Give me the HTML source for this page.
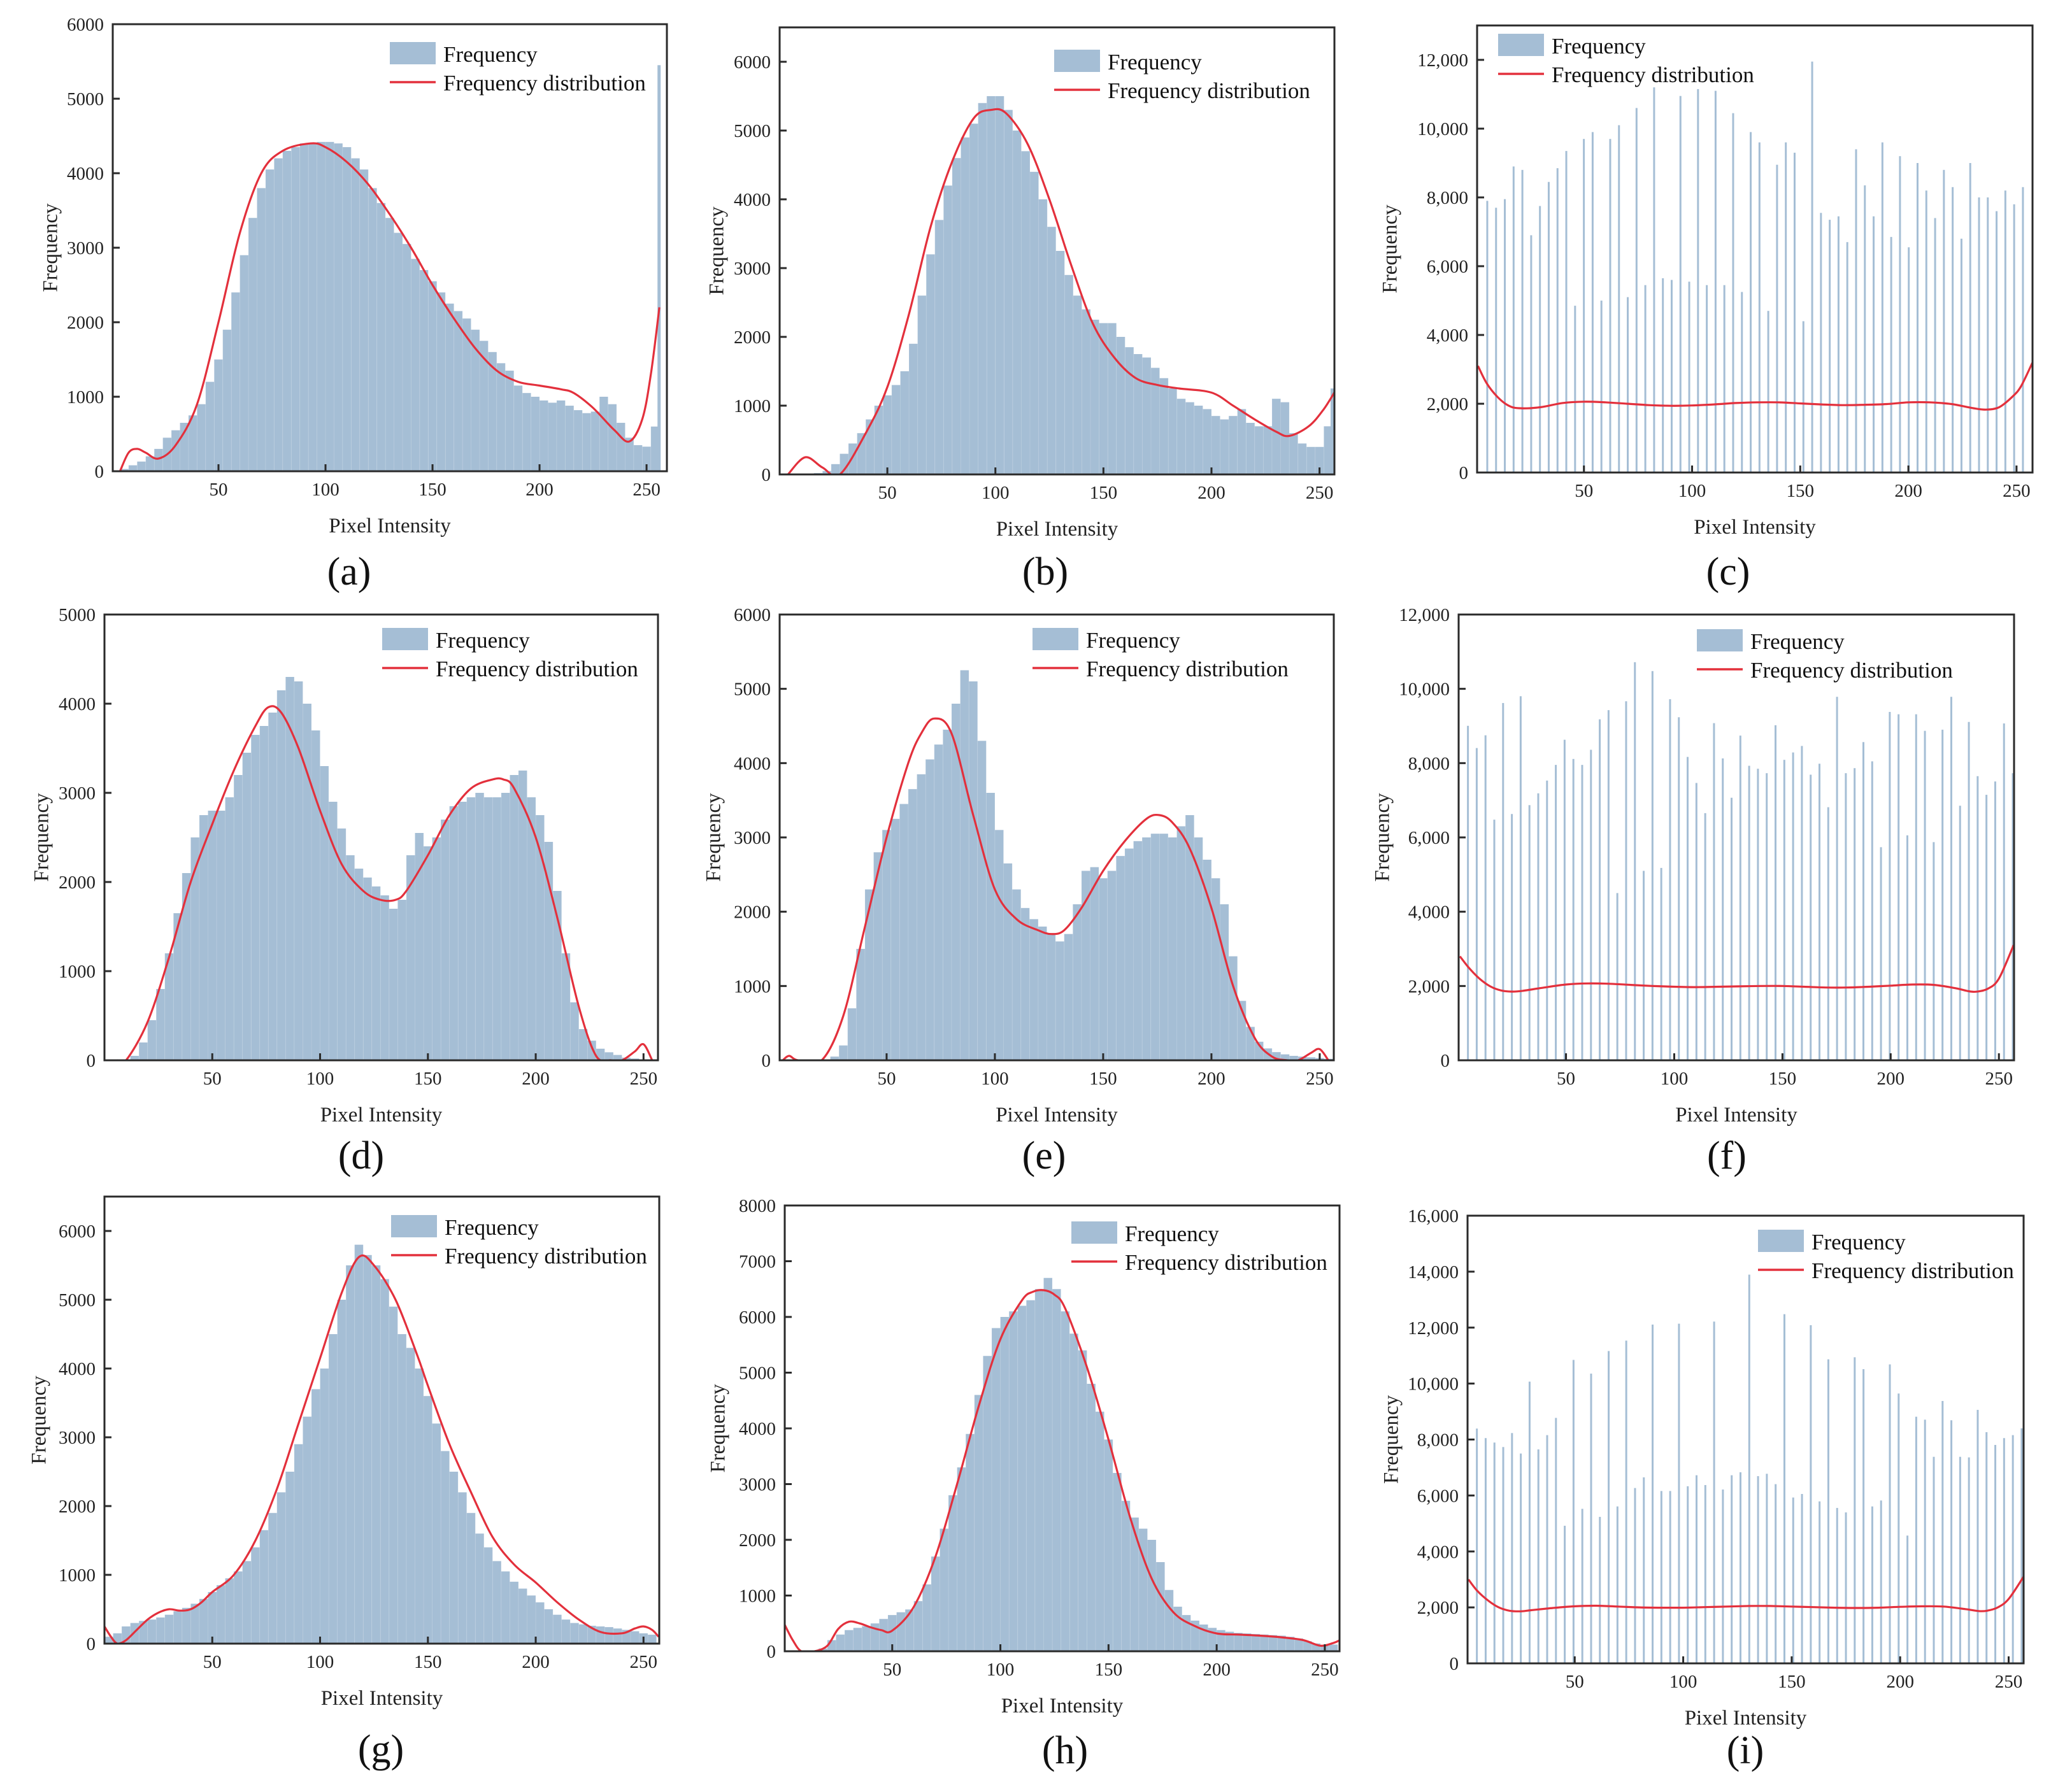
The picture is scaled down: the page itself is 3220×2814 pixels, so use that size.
<!DOCTYPE html>
<html><head><meta charset="utf-8"><title>Pixel intensity histograms</title>
<style>
html,body{margin:0;padding:0;background:#fff;}
svg{display:block;font-family:"Liberation Serif",serif;}
</style></head>
<body>
<svg id="fig" xmlns="http://www.w3.org/2000/svg" width="3220" height="2814" viewBox="0 0 3220 2814"></svg>
<script>
// ---------- data ----------
const xTickLabels = [50, 100, 150, 200, 250];
const denseBinWidth = 4;
const aBins = [0,30,80,130,200,300,450,550,650,750, 900,1200,1500,1900,2400,2900,3400,3800,4050,4200, 4300,4350,4400,4400,4420,4420,4400,4350,4200,4050, 3800,3600,3400,3200,3050,2850,2700,2550,2400,2250, 2150,2050,1900,1750,1600,1450,1350,1150,1050,1000, 950,920,950,880,820,780,800,1000,900,650, 450,350,330,600];
const aSpikeX = [256]; const aSpikeY = [5450];
const aCurveX = [4,8,12,16,22,30,40,50,60,70,80,93,100,110,120,130,140,150,160,170,180,190,200,210,216,225,235,242,248,252,256];
const aCurveY = [0,250,300,250,170,350,900,2000,3200,4000,4300,4400,4350,4150,3850,3450,3000,2500,2050,1650,1350,1200,1150,1100,1050,850,550,400,700,1300,2200];

const bBins = [0,0,0,0,20,50,150,300,450,600, 800,1000,1150,1300,1500,1900,2600,3200,3700,4200, 4600,4900,5100,5400,5500,5500,5300,5000,4700,4400, 4000,3600,3250,2900,2600,2400,2250,2200,2200,2000, 1850,1750,1700,1550,1400,1250,1100,1050,1000,950, 850,800,850,950,750,700,700,1100,1050,600, 450,400,400,700];
const bSpikeX = [256]; const bSpikeY = [1250];
const bCurveX = [4,12,20,28,40,50,60,70,80,90,98,105,115,125,135,145,155,165,175,185,200,210,220,230,236,245,252,258];
const bCurveY = [0,250,100,0,600,1270,2330,3600,4550,5180,5300,5250,4800,4000,3050,2200,1700,1400,1300,1250,1190,1000,800,620,560,700,950,1250];

const cBars = [7900,7700,7950,8900,8800,6900,7750,8450,8850,9350, 4850,9700,9900,5000,9700,10100,5100,10600,5450,11200, 5650,5600,10950,5550,11150,5450,11100,5450,10450,5250, 9900,9600,4700,8950,9600,9300,4400,11950,7550,7350, 7450,6700,9400,8350,7450,9600,6850,9200,6550,9000, 8200,7400,8800,8300,6800,9000,8000,8000,7600,8200, 7800,8300];
const cBarStart = 5.3, cBarStep = 4.06;
const cCurveX = [1,5,10,15,20,30,40,50,60,70,80,90,100,110,120,130,140,150,160,170,180,190,200,210,220,230,236,242,248,252,257.4];
const cCurveY = [3100,2600,2200,1950,1870,1900,2020,2060,2040,2000,1960,1940,1950,1980,2020,2040,2040,2010,1980,1960,1970,1990,2040,2040,1990,1870,1830,1900,2200,2500,3200];

const dBins = [0,0,0,50,200,450,800,1200,1650,2100, 2500,2750,2800,2800,2950,3200,3450,3650,3750,3900, 4150,4300,4250,4000,3700,3300,2900,2600,2300,2150, 2050,1950,1850,1700,1800,2300,2550,2400,2500,2700, 2850,2900,2950,3000,2950,2950,3000,3200,3250,2950, 2750,2450,1900,1200,650,350,220,130,90,60, 30,20,10,0];
const dCurveX = [6,10,20,30,40,50,60,70,76,82,90,100,110,120,128,135,140,150,160,170,180,185,190,200,210,220,228,235,240,246,250,254];
const dCurveY = [0,0,430,1160,2000,2650,3250,3750,3960,3900,3500,2800,2200,1900,1800,1800,1900,2300,2750,3050,3150,3150,3050,2500,1600,600,50,0,0,100,180,0];

const eBins = [0,0,0,0,0,0,50,200,700,1500, 2300,2800,3100,3250,3450,3650,3850,4050,4250,4450, 4800,5250,5100,4300,3600,3100,2650,2300,2050,1900, 1800,1700,1600,1700,2100,2550,2600,2450,2550,2750, 2850,2950,3000,3050,3050,3000,3150,3300,3000,2700, 2450,2100,1400,800,450,250,160,110,80,60, 50,40,30,20];
const eCurveX = [2,5,9,20,30,40,50,60,66,72,80,90,100,110,120,126,132,140,150,160,170,176,182,190,200,210,220,228,235,240,246,250,254];
const eCurveY = [0,60,0,0,600,1800,3000,4000,4400,4600,4400,3300,2300,1900,1750,1700,1750,2050,2550,2950,3250,3300,3200,2850,2050,1000,300,50,0,0,100,150,0];

const fBars = [9004,8406,8749,6478,9618,6630,9801,6869,7187,7530, 7952,8629,8112,7952,8359,9179,9426,4502,9665,10717, 5100,10478,5179,9721,9235,8167,7466,6653,9076,8127, 7068,8741,7928,7849,7729,9020,8088,8287,8462,7689, 7984,6813,9785,7729,7865,8566,8048,5737,9378,9315, 6056,9315,8869,5873,8900,9785,6853,9108,7649,7147, 7506,9068,7729];
const fBarStart = 4.7, fBarStep = 4.06;
const fCurveX = [1,5,10,15,20,25,30,40,50,60,70,80,90,100,110,120,130,140,150,160,170,180,190,200,210,220,230,236,240,245,250,256.8];
const fCurveY = [2800,2500,2200,1990,1880,1850,1870,1960,2040,2070,2060,2030,2000,1980,1970,1980,1990,2000,2000,1980,1960,1960,1980,2010,2040,2030,1940,1860,1850,1930,2200,3100];

const gBins = [100,150,250,300,330,350,380,420,470,520, 580,650,750,850,950,1050,1200,1400,1650,1900, 2200,2500,2900,3300,3700,4000,4500,5000,5500,5800, 5650,5500,5300,4900,4500,4300,4000,3600,3200,2800, 2500,2200,1900,1600,1400,1200,1050,900,800,700, 600,500,420,350,300,280,260,250,240,220, 200,180,150,130];
const gCurveX = [0,3,6,10,15,20,25,30,35,40,45,50,60,70,80,90,100,110,118,125,135,145,150,160,170,180,190,200,210,220,230,240,246,250,254,257];
const gCurveY = [250,100,0,50,200,350,450,500,480,500,600,750,1000,1500,2250,3200,4150,5100,5620,5500,5000,4200,3750,2900,2200,1550,1150,890,600,350,170,150,220,250,200,100];

const hBins = [0,0,0,0,50,200,300,380,420,450, 500,580,650,700,750,900,1200,1700,2200,2800, 3300,3900,4600,5300,5800,6000,6100,6200,6300,6500, 6700,6500,6100,5700,5400,4800,4300,3800,3200,2700, 2400,2200,2000,1600,1100,800,650,550,480,420, 380,350,330,320,310,300,290,280,260,230, 180,140,100,120];
const hCurveX = [0,4,8,14,20,25,30,35,40,45,50,60,70,80,90,100,110,115,120,125,130,140,150,160,170,180,190,200,210,220,230,240,248,254,257];
const hCurveY = [500,200,0,0,100,400,530,500,430,380,370,800,1700,3000,4400,5600,6300,6450,6480,6400,6150,5100,3800,2400,1300,700,450,320,300,280,250,200,100,150,200];

const iBars = [8391,8051,7892,7732,8231,7499,10069,7647,8157,8773, 4918,10845,5523,10356,5236,11163,5608,11535,6267,6649, 12108,6160,6160,12140,6330,6723,6373,12215,6213,6723, 6830,13893,6691,6776,6405,12480,5927,6054,12087,5789, 10866,5555,5396,10940,10515,5608,5821,10685,9644,4567, 8815,8709,7382,9378,8688,7382,7361,9060,8263,7807, 8051,8157,8400];
const iBarStart = 4.9, iBarStep = 4.05;
const iCurveX = [1,5,10,15,20,25,30,40,50,60,70,80,90,100,110,120,130,140,150,160,170,180,190,200,210,220,230,236,240,245,250,256.9];
const iCurveY = [3000,2600,2250,2000,1880,1860,1900,1980,2040,2060,2030,2000,1990,1990,2010,2030,2050,2050,2030,2010,1990,1980,1990,2020,2040,2030,1940,1870,1880,2000,2300,3100];

// ---------- layout ----------
const panels = [
 {id:'a',L:177,R:1047,T:38,B:740,xmin:0.6,xmax:259.5,ymax:6000,ystep:1000,comma:false,dense:aBins,spx:aSpikeX,spy:aSpikeY,cx:aCurveX,cy:aCurveY,lx:548,ly:897,ytx:78,leg:[612,66]},
 {id:'b',L:1224,R:2095,T:43,B:745,xmin:0.15,xmax:256.9,ymax:6500,ystep:1000,ytop:6000,comma:false,dense:bBins,spx:bSpikeX,spy:bSpikeY,cx:bCurveX,cy:bCurveY,lx:1641,ly:897,ytx:1124,leg:[1655,78]},
 {id:'c',L:2319,R:3191,T:40,B:742,xmin:0.6,xmax:257.4,ymax:13000,ystep:2000,ytop:12000,comma:true,bars:cBars,bs:cBarStart,bst:cBarStep,cx:cCurveX,cy:cCurveY,lx:2713,ly:897,ytx:2181,leg:[2352,53]},
 {id:'d',L:164,R:1033,T:965,B:1665,xmin:0,xmax:256.7,ymax:5000,ystep:1000,comma:false,dense:dBins,cx:dCurveX,cy:dCurveY,lx:567,ly:1814,ytx:64,leg:[600,986]},
 {id:'e',L:1224,R:2094,T:965,B:1665,xmin:0.6,xmax:256.5,ymax:6000,ystep:1000,comma:false,dense:eBins,cx:eCurveX,cy:eCurveY,lx:1639,ly:1814,ytx:1119,leg:[1621,986]},
 {id:'f',L:2290,R:3162,T:965,B:1665,xmin:0.4,xmax:257,ymax:12000,ystep:2000,comma:true,bars:fBars,bs:fBarStart,bst:fBarStep,cx:fCurveX,cy:fCurveY,lx:2711,ly:1814,ytx:2169,leg:[2664,988]},
 {id:'g',L:164,R:1035,T:1879,B:2581,xmin:0,xmax:257.3,ymax:6500,ystep:1000,ytop:6000,comma:false,dense:gBins,cx:gCurveX,cy:gCurveY,lx:598,ly:2746,ytx:60,leg:[614,1908]},
 {id:'h',L:1232,R:2103,T:1893,B:2593,xmin:0.3,xmax:256.8,ymax:8000,ystep:1000,comma:false,dense:hBins,cx:hCurveX,cy:hCurveY,lx:1672,ly:2748,ytx:1126,leg:[1682,1918]},
 {id:'i',L:2304,R:3177,T:1909,B:2612,xmin:0.6,xmax:256.9,ymax:16000,ystep:2000,comma:true,bars:iBars,bs:iBarStart,bst:iBarStep,cx:iCurveX,cy:iCurveY,lx:2740,ly:2748,ytx:2183,leg:[2760,1931]}
];

const NS = 'http://www.w3.org/2000/svg';
const svg = document.getElementById('fig');
const BAR = '#a5bed5', RED = '#e3303c', AX = '#2a2a2a';
function mk(tag, attrs, parent){ const e=document.createElementNS(NS,tag); for(const k in attrs) e.setAttribute(k,attrs[k]); (parent||svg).appendChild(e); return e; }
function fmt(v, comma){ return comma ? v.toLocaleString('en-US') : String(v); }
function smooth(pts){
  let d = 'M'+pts[0][0].toFixed(1)+','+pts[0][1].toFixed(1);
  for(let i=0;i<pts.length-1;i++){
    const p0=pts[Math.max(0,i-1)], p1=pts[i], p2=pts[i+1], p3=pts[Math.min(pts.length-1,i+2)];
    const c1x=p1[0]+(p2[0]-p0[0])/6, c1y=p1[1]+(p2[1]-p0[1])/6;
    const c2x=p2[0]-(p3[0]-p1[0])/6, c2y=p2[1]-(p3[1]-p1[1])/6;
    d+=' C'+c1x.toFixed(1)+','+c1y.toFixed(1)+' '+c2x.toFixed(1)+','+c2y.toFixed(1)+' '+p2[0].toFixed(1)+','+p2[1].toFixed(1);
  }
  return d;
}

panels.forEach(p => {
  const g = mk('g', {});
  
  
  const xs = v => p.L + (v - p.xmin) / (p.xmax - p.xmin) * (p.R - p.L);
  const ys = v => p.B - v / p.ymax * (p.B - p.T);
  const clip = mk('clipPath', {id:'clip-'+p.id}, g);
  mk('rect', {x:p.L, y:p.T, width:p.R-p.L, height:p.B-p.T}, clip);
  const plot = mk('g', {'clip-path':'url(#clip-'+p.id+')'}, g);
  
  

  if (p.dense) {
    p.dense.forEach((v, i) => {
      const x0 = xs(i*denseBinWidth), x1 = xs((i+1)*denseBinWidth);
      const r = mk('rect', {x:x0, y:ys(v), width:Math.max(0,x1-x0), height:p.B-ys(v), fill:BAR}, plot);
      
      
    });
    for (let i=1;i<p.dense.length;i++){
      const x = xs(i*denseBinWidth);
      mk('line',{x1:x,x2:x,y1:p.T,y2:p.B,stroke:'#ffffff','stroke-opacity':0.15,'stroke-width':1},plot);
    }
  }
  if (p.spx) {
    p.spx.forEach((sx, i) => {
      const r = mk('rect', {x:xs(sx)-3, y:ys(p.spy[i]), width:5, height:p.B-ys(p.spy[i]), fill:BAR}, plot);
      
      
    });
  }
  if (p.bars) {
    p.bars.forEach((v, i) => {
      const cx = xs(p.bs + p.bst*i);
      const r = mk('rect', {x:cx-1.5, y:ys(v), width:3, height:p.B-ys(v), fill:BAR}, plot);
      
      
    });
  }
  const pts = p.cx.map((x, i) => [xs(x), ys(p.cy[i])]);
  const curve = mk('path', {d:smooth(pts), fill:'none', stroke:RED, 'stroke-width':3.2}, plot);
  
  

  const frame = mk('rect', {x:p.L, y:p.T, width:p.R-p.L, height:p.B-p.T, fill:'none', stroke:AX, 'stroke-width':3}, g);
  
  

  const ytop = p.ytop || p.ymax;
  for (let v = 0; v <= ytop + 1e-6; v += p.ystep) {
    const y = ys(v);
    mk('line', {x1:p.L, x2:p.L+11, y1:y, y2:y, stroke:AX, 'stroke-width':3}, g);
    const t = mk('text', {x:p.L-14, y:y+10, 'text-anchor':'end', 'font-size':29, fill:'#222'}, g);
    t.textContent = fmt(v, p.comma);
    
    
  }
  xTickLabels.forEach(v => {
    const x = xs(v);
    mk('line', {x1:x, x2:x, y1:p.B, y2:p.B-11, stroke:AX, 'stroke-width':3}, g);
    const t = mk('text', {x:x, y:p.B+38, 'text-anchor':'middle', 'font-size':29, fill:'#222'}, g);
    t.textContent = v;
    
    
  });
  const xt = mk('text', {x:(p.L+p.R)/2, y:p.B+96, 'text-anchor':'middle', 'font-size':33, fill:'#222'}, g);
  xt.textContent = 'Pixel Intensity';
  
  
  const cyy = (p.T+p.B)/2;
  const yt = mk('text', {x:p.ytx, y:cyy, 'text-anchor':'middle', 'font-size':33, fill:'#222', transform:'rotate(-90 '+p.ytx+' '+cyy+')', dy:'0.35em'}, g);
  yt.textContent = 'Frequency';
  
  
  const pl = mk('text', {x:p.lx, y:p.ly+21, 'text-anchor':'middle', 'font-size':62, fill:'#111'}, g);
  pl.textContent = '(' + p.id + ')';
  
  
  const lg = mk('g', {}, g);
  
  
  const [lx, ly] = p.leg;
  const sw = mk('rect', {x:lx, y:ly, width:72, height:35, fill:BAR}, lg);
  
  
  const t1 = mk('text', {x:lx+84, y:ly+31, 'font-size':35, fill:'#111'}, lg);
  t1.textContent = 'Frequency';
  
  
  const ll = mk('line', {x1:lx, x2:lx+72, y1:ly+63, y2:ly+63, stroke:RED, 'stroke-width':3.5}, lg);
  
  
  const t2 = mk('text', {x:lx+84, y:ly+76, 'font-size':35, fill:'#111'}, lg);
  t2.textContent = 'Frequency distribution';
  
  
});
</script>
</body></html>
